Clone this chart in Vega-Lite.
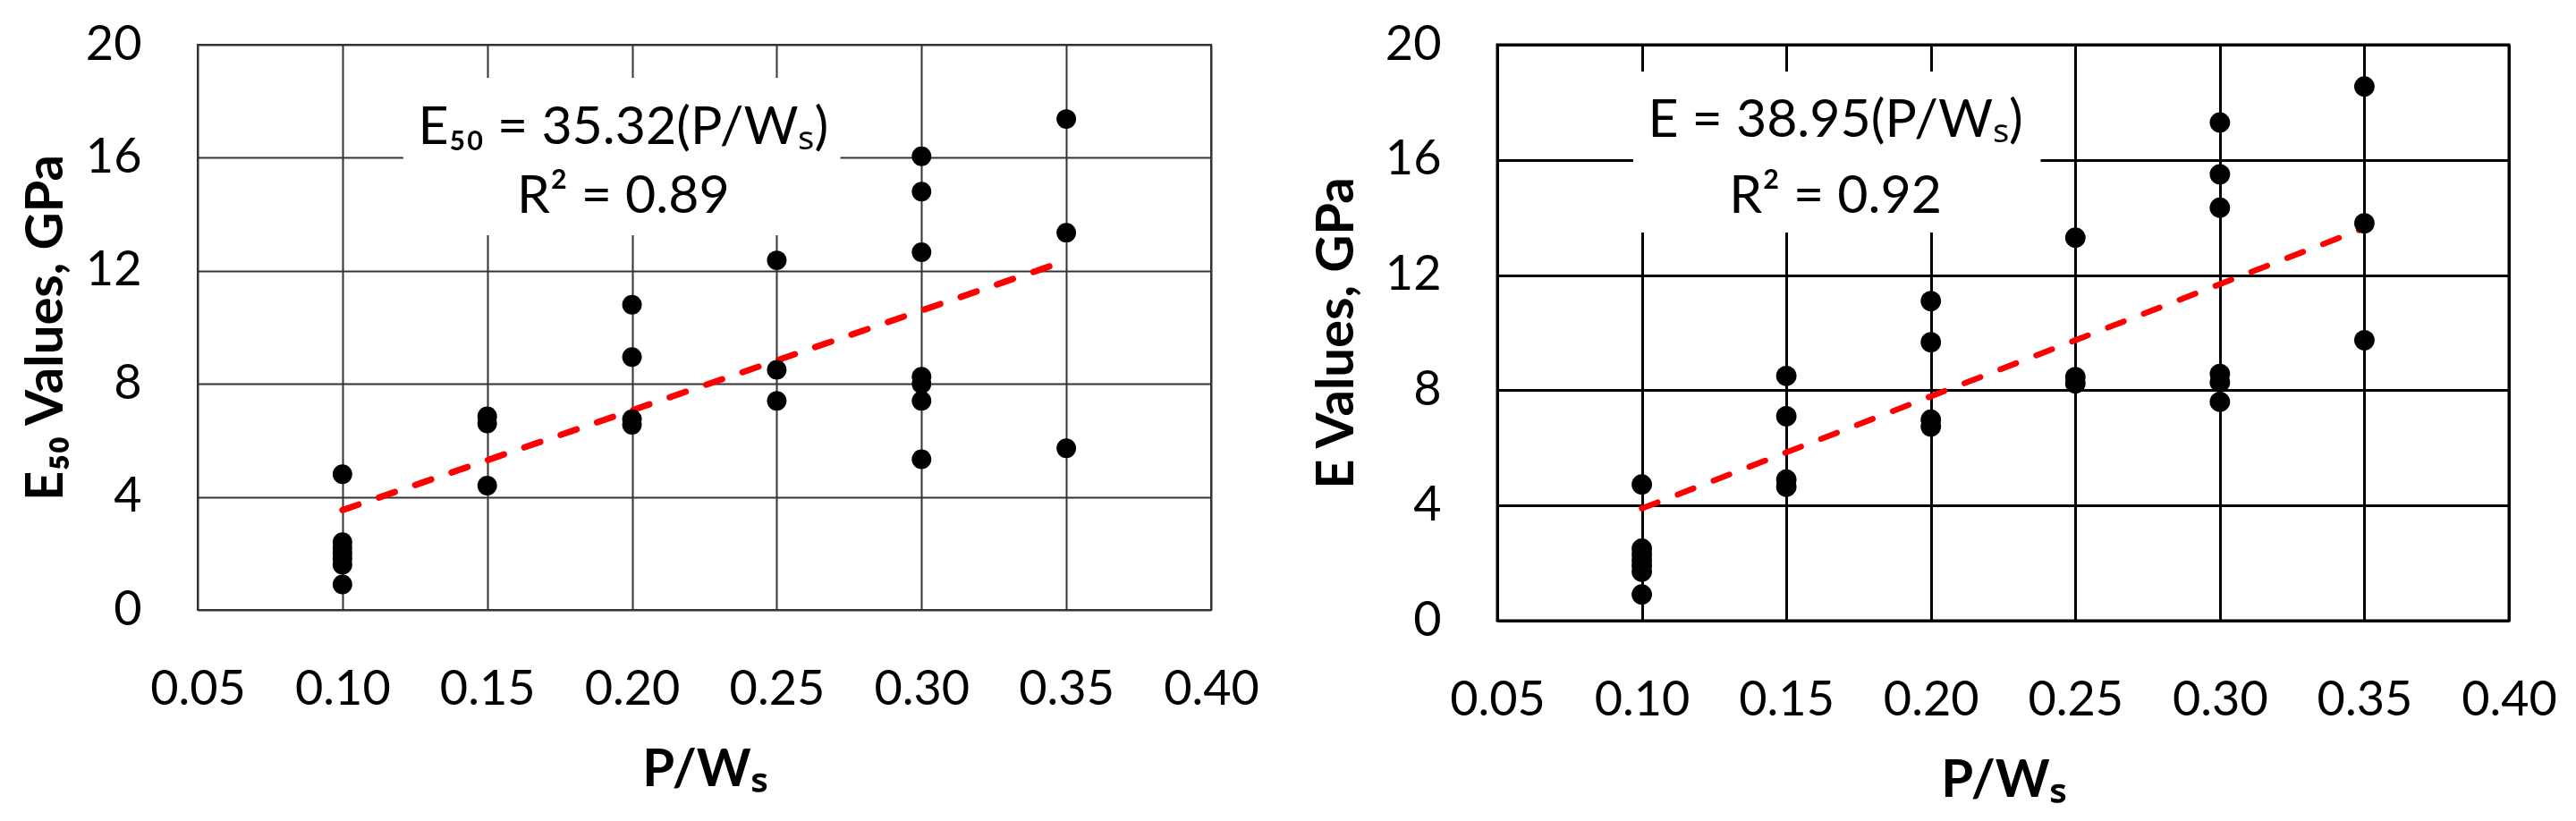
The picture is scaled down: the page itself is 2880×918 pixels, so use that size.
{
  "$schema": "https://vega.github.io/schema/vega-lite/v6.json",
  "background": "white",
  "padding": {"left": 22, "top": 21, "right": 0, "bottom": 0},
  "spacing": 55,
  "config": {
    "font": "Lato",
    "axis": {
      "labelFont": "Lato",
      "labelFontSize": 54,
      "labelColor": "#000000",
      "titleFont": "Lato",
      "titleFontSize": 58,
      "titleFontWeight": "bold",
      "titleColor": "#000000",
      "ticks": false,
      "domain": false,
      "labelFlush": false,
      "labelOverlap": false,
      "gridOpacity": 1
    }
  },
  "datasets": {
    "e50": [
      {"x": 0.10, "y": 4.8}, {"x": 0.10, "y": 2.4}, {"x": 0.10, "y": 2.2}, {"x": 0.10, "y": 2.0},
      {"x": 0.10, "y": 1.8}, {"x": 0.10, "y": 1.6}, {"x": 0.10, "y": 0.9},
      {"x": 0.15, "y": 6.85}, {"x": 0.15, "y": 6.6}, {"x": 0.15, "y": 4.4},
      {"x": 0.20, "y": 10.8}, {"x": 0.20, "y": 8.95}, {"x": 0.20, "y": 6.75}, {"x": 0.20, "y": 6.55},
      {"x": 0.25, "y": 12.37}, {"x": 0.25, "y": 8.5}, {"x": 0.25, "y": 7.4},
      {"x": 0.30, "y": 16.05}, {"x": 0.30, "y": 14.8}, {"x": 0.30, "y": 12.66}, {"x": 0.30, "y": 8.25},
      {"x": 0.30, "y": 8.0}, {"x": 0.30, "y": 7.4}, {"x": 0.30, "y": 5.33},
      {"x": 0.35, "y": 17.37}, {"x": 0.35, "y": 13.35}, {"x": 0.35, "y": 5.72}
    ],
    "e": [
      {"x": 0.10, "y": 4.73}, {"x": 0.10, "y": 2.5}, {"x": 0.10, "y": 2.3}, {"x": 0.10, "y": 2.1},
      {"x": 0.10, "y": 1.9}, {"x": 0.10, "y": 1.7}, {"x": 0.10, "y": 0.91},
      {"x": 0.15, "y": 8.5}, {"x": 0.15, "y": 7.1}, {"x": 0.15, "y": 4.9}, {"x": 0.15, "y": 4.65},
      {"x": 0.20, "y": 11.1}, {"x": 0.20, "y": 9.67}, {"x": 0.20, "y": 6.98}, {"x": 0.20, "y": 6.74},
      {"x": 0.25, "y": 13.3}, {"x": 0.25, "y": 8.46}, {"x": 0.25, "y": 8.24},
      {"x": 0.30, "y": 17.3}, {"x": 0.30, "y": 15.5}, {"x": 0.30, "y": 14.34}, {"x": 0.30, "y": 8.57},
      {"x": 0.30, "y": 8.28}, {"x": 0.30, "y": 7.6},
      {"x": 0.35, "y": 18.55}, {"x": 0.35, "y": 13.8}, {"x": 0.35, "y": 9.74}
    ],
    "e50_fit": [{"x": 0.10, "y": 3.532}, {"x": 0.35, "y": 12.362}],
    "e_fit": [{"x": 0.10, "y": 3.895}, {"x": 0.35, "y": 13.633}],
    "e50_note": [
      {"x": 0.197, "y": 16.49, "label": "E₅₀ = 35.32(P/Wₛ)"},
      {"x": 0.197, "y": 14.05, "label": "R² = 0.89"}
    ],
    "e_note": [
      {"x": 0.167, "y": 16.8, "label": "E = 38.95(P/Wₛ)"},
      {"x": 0.167, "y": 14.16, "label": "R² = 0.92"}
    ],
    "e50_box": [{"x": 0.121, "x2": 0.272, "y": 13.26, "y2": 18.83}],
    "e_box": [{"x": 0.097, "x2": 0.238, "y": 13.48, "y2": 19.07}]
  },
  "hconcat": [
    {
      "width": 1133,
      "height": 632,
      "view": {"stroke": "#333333", "strokeWidth": 2},
      "encoding": {
        "x": {
          "field": "x",
          "type": "quantitative",
          "scale": {"domain": [0.05, 0.4], "nice": false, "zero": false},
          "axis": {
            "title": "P/Wₛ",
            "values": [0.05, 0.1, 0.15, 0.2, 0.25, 0.3, 0.35, 0.4],
            "format": ".2f",
            "labelPadding": 62,
            "titlePadding": 34,
            "gridColor": "#333333",
            "gridWidth": 2
          }
        },
        "y": {
          "field": "y",
          "type": "quantitative",
          "scale": {"domain": [0, 20], "nice": false},
          "axis": {
            "title": "E₅₀ Values, GPa",
            "values": [0, 4, 8, 12, 16, 20],
            "labelPadding": 63,
            "titlePadding": 14,
            "gridColor": "#333333",
            "gridWidth": 2
          }
        }
      },
      "layer": [
        {
          "data": {"name": "e50_box"},
          "mark": {"type": "rect", "fill": "white", "stroke": null},
          "encoding": {"x2": {"field": "x2"}, "y2": {"field": "y2"}}
        },
        {
          "data": {"name": "e50_fit"},
          "mark": {"type": "line", "color": "#ff0000", "strokeWidth": 7, "strokeCap": "round", "strokeDash": [19, 24]}
        },
        {
          "data": {"name": "e50"},
          "mark": {"type": "point", "filled": true, "shape": "circle", "size": 480, "color": "#000000", "opacity": 1}
        },
        {
          "data": {"name": "e50_note"},
          "mark": {"type": "text", "font": "Lato", "fontSize": 59, "align": "center", "baseline": "alphabetic", "color": "#000000"},
          "encoding": {"text": {"field": "label"}}
        }
      ]
    },
    {
      "width": 1131,
      "height": 644,
      "view": {"stroke": "#000000", "strokeWidth": 3},
      "encoding": {
        "x": {
          "field": "x",
          "type": "quantitative",
          "scale": {"domain": [0.05, 0.4], "nice": false, "zero": false},
          "axis": {
            "title": "P/Wₛ",
            "values": [0.05, 0.1, 0.15, 0.2, 0.25, 0.3, 0.35, 0.4],
            "format": ".2f",
            "labelPadding": 62,
            "titlePadding": 34,
            "gridColor": "#000000",
            "gridWidth": 3
          }
        },
        "y": {
          "field": "y",
          "type": "quantitative",
          "scale": {"domain": [0, 20], "nice": false},
          "axis": {
            "title": "E Values, GPa",
            "values": [0, 4, 8, 12, 16, 20],
            "labelPadding": 63,
            "titlePadding": 24,
            "gridColor": "#000000",
            "gridWidth": 3
          }
        }
      },
      "layer": [
        {
          "data": {"name": "e_box"},
          "mark": {"type": "rect", "fill": "white", "stroke": null},
          "encoding": {"x2": {"field": "x2"}, "y2": {"field": "y2"}}
        },
        {
          "data": {"name": "e_fit"},
          "mark": {"type": "line", "color": "#ff0000", "strokeWidth": 6.5, "strokeCap": "round", "strokeDash": [19, 24]}
        },
        {
          "data": {"name": "e"},
          "mark": {"type": "point", "filled": true, "shape": "circle", "size": 520, "color": "#000000", "opacity": 1}
        },
        {
          "data": {"name": "e_note"},
          "mark": {"type": "text", "font": "Lato", "fontSize": 59, "align": "center", "baseline": "alphabetic", "color": "#000000"},
          "encoding": {"text": {"field": "label"}}
        }
      ]
    }
  ]
}
